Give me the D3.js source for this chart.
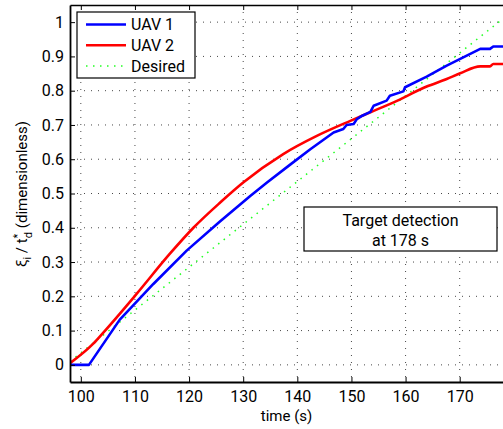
<!DOCTYPE html>
<html>
<head>
<meta charset="utf-8">
<script src="https://cdn.jsdelivr.net/npm/d3@7"></script>
<style>
  body { margin: 0; background: #fff; }
</style>
</head>
<body>
<div id="chart"></div>
<script>
// values
const uav1 = [
  [98, 0], [101.5, 0], [107.2, 0.132], [113.4, 0.236], [119.6, 0.334],
  [125.7, 0.418], [131.3, 0.493], [134.4, 0.532], [138.5, 0.582], [142.4, 0.629],
  [146.7, 0.678], [148.5, 0.688], [149.1, 0.700], [150.4, 0.703], [151.0, 0.717],
  [152.0, 0.727], [153.5, 0.738], [154.1, 0.756], [156.5, 0.771], [157.1, 0.785],
  [159.6, 0.798], [159.9, 0.810], [163.9, 0.841], [167.6, 0.873], [170.1, 0.893],
  [173.8, 0.922], [175.6, 0.922], [176.2, 0.929], [178, 0.929]
]
const uav2 = [
  [98, 0.005], [102.3, 0.062], [104.2, 0.095], [110.3, 0.207], [116.5, 0.325],
  [120.8, 0.40], [125.7, 0.473], [130.0, 0.532], [137.4, 0.615], [143.6, 0.668],
  [149.8, 0.712], [153.5, 0.737], [157.8, 0.766], [163.9, 0.812], [167.6, 0.834],
  [170.1, 0.851], [173.8, 0.871], [175.6, 0.871], [176.2, 0.878], [178, 0.878]
]
const desired = [[98, 0.01], [178, 1.01]]

const xTicks = [100, 110, 120, 130, 140, 150, 160, 170]
const yTicks = [0, 0.1, 0.2, 0.3, 0.4, 0.5, 0.6, 0.7, 0.8, 0.9, 1]
const xDomain = [98, 178]
const yDomain = [-0.05, 1.05]

const series = [
  { name: 'UAV 1', values: uav1, color: '#0000ff', width: 2.6, dash: null, curve: d3.curveLinear },
  { name: 'UAV 2', values: uav2, color: '#ff0000', width: 2.6, dash: null, curve: d3.curveMonotoneX },
  { name: 'Desired', values: desired, color: '#22ff22', width: 1.5, dash: '1.5,5.5', curve: d3.curveLinear }
]

const width = 503, height = 429
const margin = { top: 5, right: 0, bottom: 47, left: 70 }
const innerW = width - margin.left - margin.right
const innerH = height - margin.top - margin.bottom

const svg = d3.select('#chart').append('svg')
  .attr('width', width)
  .attr('height', height)

// pick an installed Helvetica/Arial-like face (Arial metrics: "Target detection" ~ 7.26 em)
function pickFont() {
  const probe = svg.append('text').style('font-size', '100px').text('Target detection')
  const names = ['Liberation Sans', 'Arimo', 'Arial', 'Helvetica', 'Roboto', 'Inter', 'Noto Sans']
  let best = 'sans-serif', bestErr = Infinity
  for (const n of names) {
    probe.style('font-family', `"${n}"`)
    const err = Math.abs(probe.node().getComputedTextLength() - 726)
    if (err < bestErr) { bestErr = err; best = `"${n}"` }
  }
  probe.remove()
  return best
}
const font = pickFont()

svg.append('rect').attr('width', width).attr('height', height).attr('fill', '#fff')

const g = svg.append('g')
  .attr('transform', `translate(${margin.left}, ${margin.top})`)

const x = d3.scaleLinear().domain(xDomain).range([0, innerW])
const y = d3.scaleLinear().domain(yDomain).range([innerH, 0])

// dotted grid
g.append('g').selectAll('line')
  .data(xTicks)
  .join('line')
  .attr('x1', d => x(d)).attr('x2', d => x(d))
  .attr('y1', 0).attr('y2', innerH)
  .attr('stroke', '#333').attr('stroke-width', 0.9)
  .attr('stroke-dasharray', '1,6')

g.append('g').selectAll('line')
  .data(yTicks)
  .join('line')
  .attr('x1', 0).attr('x2', innerW)
  .attr('y1', d => y(d)).attr('y2', d => y(d))
  .attr('stroke', '#333').attr('stroke-width', 0.9)
  .attr('stroke-dasharray', '1,6')

g.append('clipPath').attr('id', 'clip')
  .append('rect').attr('width', innerW + 2).attr('height', innerH)

g.append('g').attr('clip-path', 'url(#clip)')
  .selectAll('path')
  .data(series.slice().reverse())
  .join('path')
  .attr('fill', 'none')
  .attr('stroke', d => d.color)
  .attr('stroke-width', d => d.width)
  .attr('stroke-dasharray', d => d.dash)
  .attr('stroke-linejoin', 'round')
  .attr('d', d => d3.line().curve(d.curve).x(p => x(p[0])).y(p => y(p[1]))(d.values))

// axes, ticks pointing inward
const xAxis = g.append('g')
  .attr('transform', `translate(0, ${innerH})`)
  .call(d3.axisBottom(x).tickValues(xTicks).tickSizeInner(-5).tickSizeOuter(0).tickPadding(8.5))
const xTop = g.append('g')
  .call(d3.axisTop(x).tickValues(xTicks).tickSizeInner(-5).tickSizeOuter(0).tickFormat(''))
const yAxis = g.append('g')
  .call(d3.axisLeft(y).tickValues(yTicks).tickSizeInner(-5).tickSizeOuter(0).tickPadding(6)
    .tickFormat(d => d === 0 ? '0' : d === 1 ? '1' : d3.format('.1f')(d)))

for (const ax of [xAxis, xTop, yAxis]) {
  ax.select('.domain').attr('stroke', '#000').attr('stroke-width', 1.8)
  ax.selectAll('.tick line').attr('stroke', '#000').attr('stroke-width', 1)
  ax.selectAll('text').style('font-size', '16px').style('font-family', font).attr('fill', '#000')
}
xTop.select('.domain').attr('stroke-width', 1.3)

// legend
const legend = svg.append('g').attr('transform', 'translate(77, 12)')
legend.append('rect')
  .attr('width', 118).attr('height', 66)
  .attr('fill', '#fff').attr('stroke', '#000').attr('stroke-width', 1.2)

legend.selectAll('g')
  .data(series)
  .join('g')
  .attr('transform', (d, i) => `translate(0, ${12.5 + i * 20.7})`)
  .each(function (s) {
    const item = d3.select(this)
    item.append('line')
      .attr('x1', 9).attr('x2', 49)
      .attr('stroke', s.color)
      .attr('stroke-width', s.width)
      .attr('stroke-dasharray', s.dash)
    item.append('text')
      .attr('x', 54).attr('y', 5.8)
      .style('font-size', '16px')
      .style('font-family', font)
      .text(s.name)
  })

// annotation
const note = svg.append('g').attr('transform', 'translate(304, 207)')
note.append('rect')
  .attr('width', 193).attr('height', 44)
  .attr('fill', '#fff').attr('stroke', '#000').attr('stroke-width', 1.2)
note.selectAll('text')
  .data(['Target detection', 'at 178 s'])
  .join('text')
  .attr('x', 96.5)
  .attr('y', (d, i) => 19 + i * 19.5)
  .attr('text-anchor', 'middle')
  .style('font-size', '16px')
  .style('font-family', font)
  .text(d => d)

// axis labels
svg.append('text')
  .attr('x', margin.left + innerW / 2)
  .attr('y', 421)
  .attr('text-anchor', 'middle')
  .style('font-size', '15px')
  .style('font-family', font)
  .text('time (s)')

const yl = svg.append('text')
  .attr('transform', 'translate(27, 194) rotate(-90)')
  .attr('text-anchor', 'middle')
  .style('font-size', '15px')
  .style('font-family', font)
yl.append('tspan').text('ξ')
yl.append('tspan').attr('dy', 4).style('font-size', '11px').text('i')
yl.append('tspan').attr('dy', -4).text(' / t')
yl.append('tspan').attr('dy', -6).style('font-size', '11px').text('*')
yl.append('tspan').attr('dy', 11).attr('dx', -4.5).style('font-size', '11px').text('d')
yl.append('tspan').attr('dy', -5).text(' (dimensionless)')
</script>
</body>
</html>
